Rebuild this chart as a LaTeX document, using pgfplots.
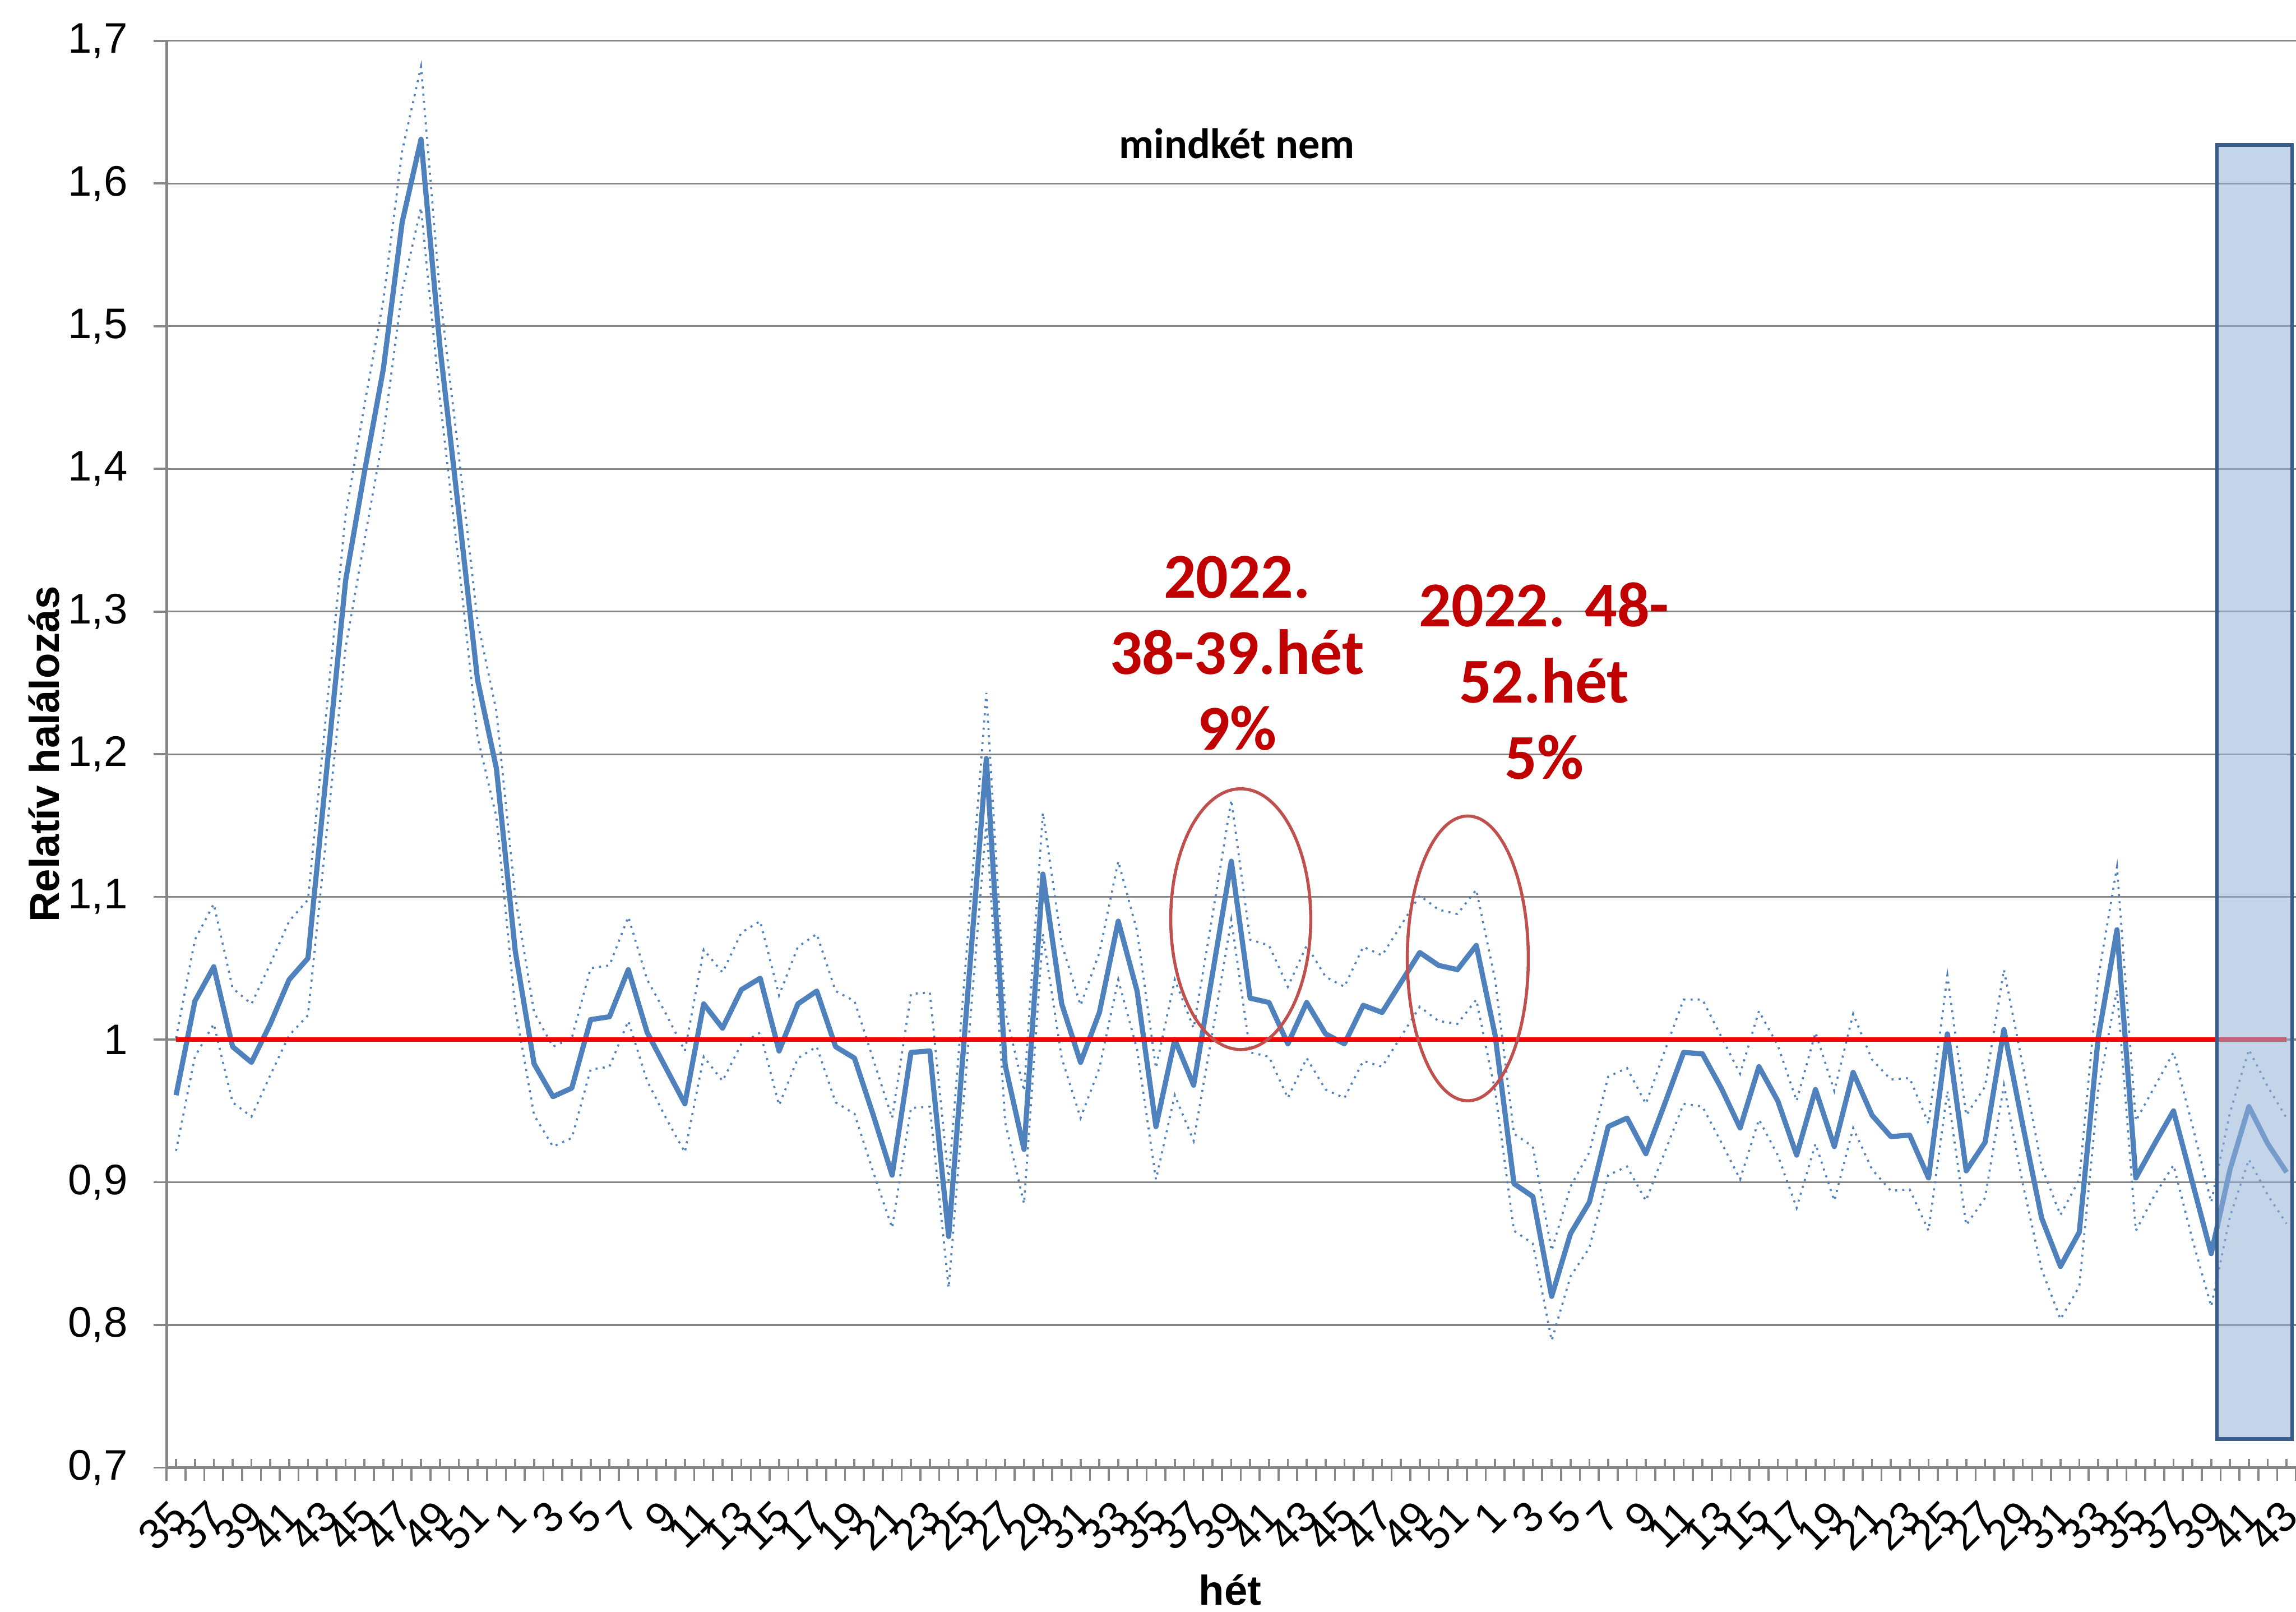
\documentclass[border=0pt]{standalone}
\usepackage{pgfplots}
\pgfplotsset{compat=1.18}
\usepackage{pgfplotstable}
\usepackage{fontspec}
\setmainfont{Liberation Sans}
\newfontfamily\cali{Carlito}
\definecolor{mainblue}{RGB}{79,129,189}
\definecolor{gridgray}{RGB}{134,134,134}
\definecolor{annred}{RGB}{192,0,0}
\definecolor{ellred}{RGB}{192,80,77}
\definecolor{rectfill}{RGB}{149,179,215}
\definecolor{rectborder}{RGB}{56,93,138}

\pgfplotstableread{
x m u l
0 0.961 1.001 0.922
1 1.027 1.070 0.988
2 1.051 1.095 1.011
3 0.995 1.036 0.956
4 0.984 1.025 0.946
5 1.011 1.053 0.975
6 1.042 1.083 1.003
7 1.057 1.098 1.017
8 1.190 1.233 1.146
9 1.322 1.368 1.275
10 1.398 1.445 1.350
11 1.470 1.518 1.424
12 1.573 1.623 1.525
13 1.631 1.682 1.583
14 1.486 1.523 1.449
15 1.370 1.410 1.334
16 1.252 1.293 1.212
17 1.190 1.230 1.156
18 1.062 1.100 1.022
19 0.983 1.019 0.947
20 0.960 0.995 0.925
21 0.966 1.001 0.931
22 1.014 1.050 0.979
23 1.016 1.052 0.981
24 1.049 1.086 1.013
25 1.005 1.042 0.971
26 0.980 1.018 0.945
27 0.955 0.992 0.921
28 1.025 1.063 0.988
29 1.008 1.047 0.971
30 1.035 1.075 0.997
31 1.043 1.083 1.005
32 0.992 1.031 0.954
33 1.025 1.065 0.987
34 1.034 1.074 0.995
35 0.995 1.034 0.956
36 0.987 1.027 0.948
37 0.947 0.986 0.907
38 0.905 0.945 0.868
39 0.991 1.032 0.952
40 0.992 1.033 0.953
41 0.862 0.901 0.826
42 1.030 1.070 0.990
43 1.197 1.243 1.152
44 0.982 1.020 0.942
45 0.923 0.964 0.885
46 1.116 1.159 1.074
47 1.025 1.067 0.987
48 0.984 1.024 0.945
49 1.019 1.061 0.980
50 1.083 1.125 1.042
51 1.034 1.076 0.993
52 0.939 0.980 0.902
53 1.000 1.042 0.961
54 0.968 1.008 0.929
55 1.046 1.087 1.005
56 1.125 1.168 1.084
57 1.029 1.070 0.991
58 1.026 1.066 0.988
59 0.997 1.037 0.959
60 1.026 1.066 0.987
61 1.004 1.044 0.965
62 0.997 1.037 0.959
63 1.024 1.065 0.985
64 1.019 1.059 0.981
65 1.040 1.080 1.002
66 1.061 1.101 1.023
67 1.052 1.091 1.013
68 1.049 1.088 1.011
69 1.066 1.105 1.028
70 1.003 1.042 0.964
71 0.899 0.934 0.866
72 0.890 0.925 0.857
73 0.820 0.852 0.789
74 0.864 0.897 0.834
75 0.886 0.921 0.854
76 0.939 0.974 0.905
77 0.945 0.980 0.911
78 0.920 0.955 0.887
79 0.955 0.992 0.921
80 0.991 1.028 0.955
81 0.990 1.028 0.953
82 0.966 1.002 0.928
83 0.938 0.976 0.902
84 0.981 1.020 0.944
85 0.957 0.996 0.919
86 0.919 0.957 0.882
87 0.965 1.005 0.927
88 0.925 0.964 0.887
89 0.977 1.018 0.938
90 0.947 0.986 0.909
91 0.932 0.972 0.894
92 0.933 0.973 0.895
93 0.903 0.941 0.866
94 1.004 1.045 0.964
95 0.908 0.947 0.870
96 0.928 0.967 0.889
97 1.007 1.049 0.968
98 0.940 0.982 0.899
99 0.875 0.911 0.839
100 0.841 0.877 0.804
101 0.865 0.902 0.827
102 1.001 1.043 0.964
103 1.077 1.121 1.035
104 0.903 0.943 0.866
105 0.927 0.967 0.891
106 0.950 0.991 0.912
107 0.900 0.940 0.860
108 0.850 0.886 0.813
109 0.909 0.949 0.876
110 0.953 0.993 0.916
111 0.927 0.967 0.891
112 0.907 0.945 0.871
}\datatable

\begin{document}
\begin{tikzpicture}
\begin{axis}[
  scale only axis,
  width=145.4mm, height=97.4mm,
  xmin=-0.5, xmax=112.5, ymin=0.7, ymax=1.7,
  axis x line*=bottom, axis y line*=left,
  axis line style={-, draw=gridgray, line width=0.6pt},
  tick align=outside,
  major tick length=0.9mm,
  tick style={draw=gridgray, line width=0.4pt},
  ytick={0.7,0.8,0.9,1,1.1,1.2,1.3,1.4,1.5,1.6,1.7},
  yticklabels={{0,7},{0,8},{0,9},{1},{1,1},{1,2},{1,3},{1,4},{1,5},{1,6},{1,7}},
  ymajorgrids,
  grid style={draw=gridgray, line width=0.35pt},
  xtick={-0.5,0.5,...,112.5},
  xticklabels={},
  extra x ticks={0,1,...,112},
  extra x tick labels={35,,37,,39,,41,,43,,45,,47,,49,,51,,1,,3,,5,,7,,9,,11,,13,,15,,17,,19,,21,,23,,25,,27,,29,,31,,33,,35,,37,,39,,41,,43,,45,,47,,49,,51,,1,,3,,5,,7,,9,,11,,13,,15,,17,,19,,21,,23,,25,,27,,29,,31,,33,,35,,37,,39,,41,,43},
  extra x tick style={tick align=inside, major tick length=0.6mm},
  tick label style={font=\fontsize{8.3}{10}\selectfont},
  yticklabel style={inner sep=0pt, xshift=-1.7mm},
  xticklabel style={inner sep=0pt, xshift=-0.5mm, yshift=-2.0mm, rotate=45, anchor=north east},
  ylabel={Relatív halálozás},
  xlabel={hét},
  ylabel style={font=\bfseries\fontsize{8.1}{9.7}\selectfont, at={(axis description cs:-0.0576,0.5)}, anchor=center},
  xlabel style={font=\bfseries\fontsize{8.1}{9.7}\selectfont, at={(axis description cs:0.4995,-0.0856)}, anchor=center},
  clip=false,
]
\addplot[mainblue, line width=0.4pt, densely dotted] table[x=x, y=u] {\datatable};
\addplot[mainblue, line width=0.4pt, densely dotted] table[x=x, y=l] {\datatable};
\addplot[mainblue, line width=1.0pt, line join=round] table[x=x, y=m] {\datatable};
\addplot[red, line width=0.8pt] coordinates {(0,1) (112,1)};

\draw[draw=rectborder, line width=0.7pt, fill=rectfill, fill opacity=0.55] (axis cs:108.3,0.72) rectangle (axis cs:112.3,1.627);

\draw[ellred, line width=0.6pt] (axis cs:56.5,1.0844) ellipse [x radius=4.78mm, y radius=8.9mm];
\draw[ellred, line width=0.6pt] (axis cs:68.55,1.0569) ellipse [x radius=4.13mm, y radius=9.72mm];

\node[font=\cali\bfseries\fontsize{8.3}{10}\selectfont] at (axis cs:56.3,1.628) {mindkét nem};
\node[align=center, text=annred, font=\cali\bfseries\fontsize{12.4}{14.8}\selectfont] at (axis cs:56.3,1.2707) {2022.\\38-39.hét\\9\%};
\node[align=center, text=annred, font=\cali\bfseries\fontsize{12.4}{14.8}\selectfont] at (axis cs:72.6,1.2513) {2022. 48-\\52.hét\\5\%};
\end{axis}
\pgfresetboundingbox
\path ([xshift=-11.38mm,yshift=-9.84mm]current axis.south west) rectangle ([yshift=2.79mm]current axis.north east);
\end{tikzpicture}
\end{document}
